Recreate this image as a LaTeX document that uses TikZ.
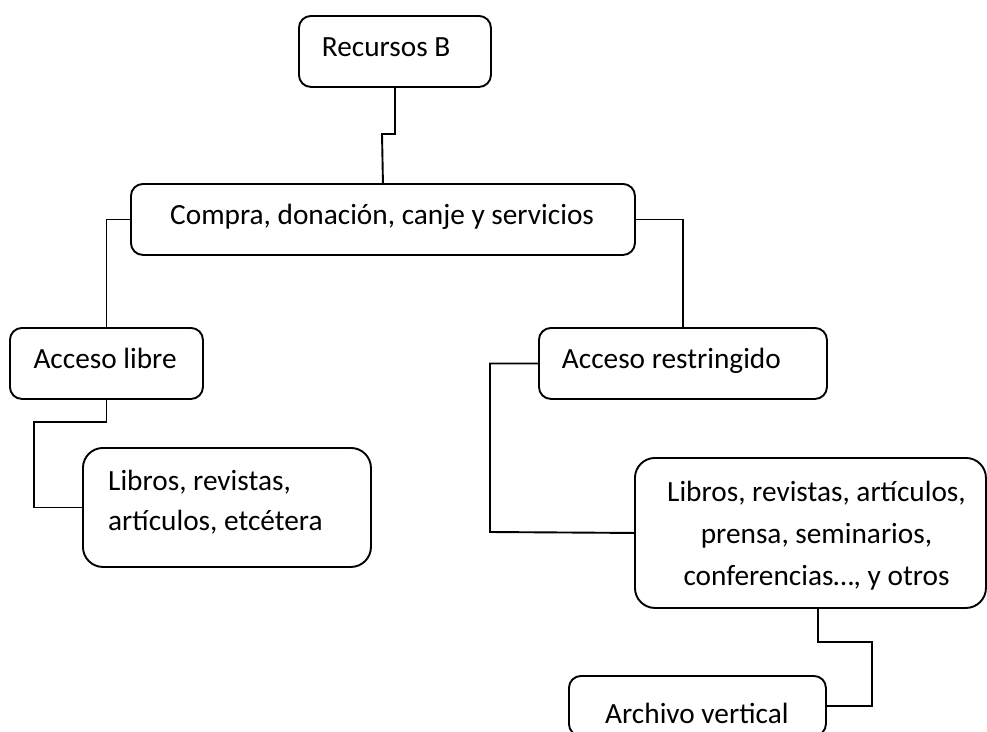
\documentclass[tikz,border=0pt]{standalone}
\usepackage{fontspec}
\setmainfont{Carlito}
\usetikzlibrary{calc}
\tikzset{
  box/.style={draw, line width=1.9pt, rounded corners=12pt, anchor=north west, inner sep=0pt},
  bigbox/.style={box, rounded corners=20pt},
  txt/.style={anchor=base west, inner sep=0pt, font=\fontsize{29.3}{40}\selectfont},
  conn/.style={line width=1.9pt},
}
\begin{document}
\begin{tikzpicture}[x=1pt, y=-1pt]
\clip (0,0) rectangle (987,731);
\fill[white] (0,0) rectangle (987,731);
% boxes
\node[box, minimum width=192pt, minimum height=71pt] (rec) at (298,15) {};
\node[box, minimum width=504pt, minimum height=71pt] (com) at (130,183) {};
\node[box, minimum width=193pt, minimum height=71pt] (lib) at (9,327) {};
\node[box, minimum width=288pt, minimum height=71pt] (res) at (538,327) {};
\node[bigbox, minimum width=288pt, minimum height=119pt] (lone) at (82,447) {};
\node[bigbox, minimum width=351pt, minimum height=150pt] (ltwo) at (634,457) {};
\node[box, minimum width=257pt, minimum height=60pt] (arc) at (568,675) {};
% texts
\node[txt] (trec) at (321.7,56) {Recursos B};
\node[txt] (tcom) at (170,224) {Compra, donación, canje y servicios};
\node[txt] (tlib) at (33.3,368) {Acceso libre};
\node[txt] (tres) at (561.7,368) {Acceso restringido};
\node[txt] (tlone) at (108,490.7) {\fontsize{29.3}{40}\selectfont\begin{tabular}[t]{@{}l@{}}Libros, revistas,\\artículos, etcétera\end{tabular}};
\node[txt, anchor=base] (tltwo) at (816.5,501.7) {\fontsize{29.3}{41.7}\selectfont\begin{tabular}[t]{@{}c@{}}Libros, revistas, artículos,\\prensa, seminarios,\\conferencias…, y otros\end{tabular}};
\node[txt] (tarc) at (605,723) {Archivo vertical};
% connectors
\draw[conn] (rec.south) |- (382,134) -- (com.north);
\draw[conn] (com.west) -| (lib.north);
\draw[conn] (com.east) -| (res.north);
\draw[conn] (lib.south) |- (34,422) |- (lone.west);
\draw[conn] (res.west) -| (490,532) -- (ltwo.west);
\draw[conn] ($(ltwo.south)+(7.5,0)$) |- (872,642) |- (arc.east);
\end{tikzpicture}
\end{document}
